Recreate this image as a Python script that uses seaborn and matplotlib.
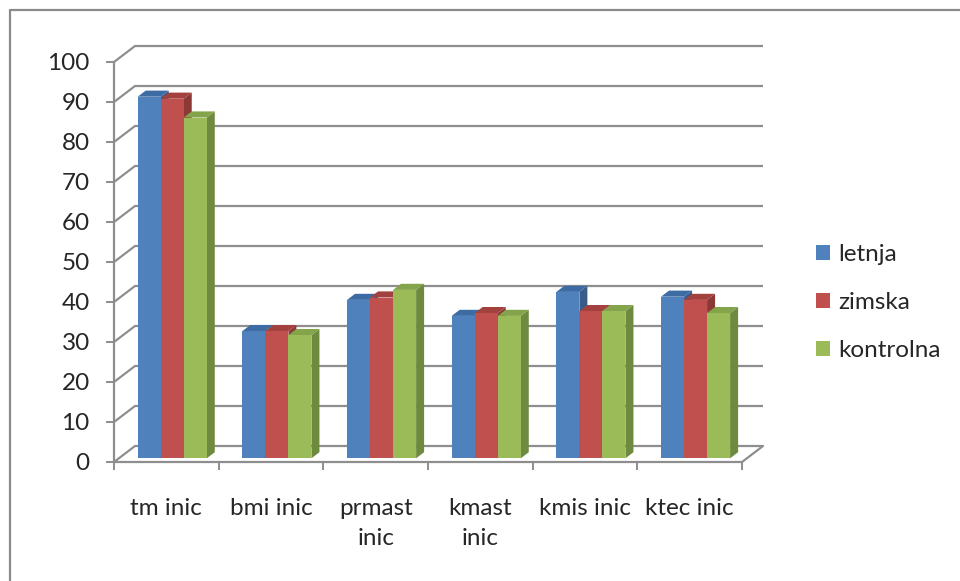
import numpy as np
import pandas as pd
import matplotlib
matplotlib.use("Agg")
import matplotlib.pyplot as plt
import seaborn as sns
from matplotlib.patches import Polygon, Patch
from matplotlib.lines import Line2D

# ---- data ----
categories = ["tm inic", "bmi inic", "prmast\ninic", "kmast\ninic", "kmis inic", "ktec inic"]
groups = ["letnja", "zimska", "kontrolna"]
letnja = [90.4, 31.8, 39.6, 35.6, 41.6, 40.4]
zimska = [89.9, 31.8, 40.2, 36.3, 36.8, 39.6]
kontrolna = [85.2, 30.8, 42.1, 35.6, 36.8, 36.3]
y_ticks = list(range(0, 101, 10))

front_colors = ["#4F81BD", "#C0504D", "#9BBB59"]
side_colors = ["#385D8A", "#8C3836", "#6E8A3E"]
top_colors = ["#3D6BA3", "#A3413E", "#84A44B"]
grid_color = "#8E8E8E"
text_color = "#262626"

df = pd.DataFrame({
    "category": categories * 3,
    "group": np.repeat(groups, len(categories)),
    "value": letnja + zimska + kontrolna,
})

sns.set_theme(style="white")
plt.rcParams["font.family"] = ["Lato", "DejaVu Sans"]

W, H = 960, 581
fig = plt.figure(figsize=(W / 100, H / 100), dpi=100)
fig.patch.set_facecolor("white")

# front plane of the 3-D box: x 114..742 px, y 62..462 px
ax = fig.add_axes([114 / W, (H - 462) / H, 628 / W, 400 / H])
ax.set_facecolor("none")

sns.barplot(data=df, x="category", y="value", hue="group",
            order=categories, hue_order=groups, palette=front_colors,
            saturation=1, width=0.66, errorbar=None, legend=False, ax=ax)

ax.set_xlim(-0.5, len(categories) - 0.5)
ax.set_ylim(0, 100)

px_x = 628 / len(categories)   # pixels per x data unit
px_y = 4.0                     # pixels per y data unit

# depth of the whole box, and of the columns
box_dx, box_dy = 21 / px_x, 16 / px_y
bar_dx, bar_dy = 8.0 / px_x, 6.1 / px_y
shift_x, shift_y = 5.9 / px_x, 3.7 / px_y

# back wall gridlines with the left-wall diagonals
x0, x1 = -0.5, len(categories) - 0.5
for v in y_ticks:
    ax.plot([x0, x0 + box_dx, x1 + box_dx], [v, v + box_dy, v + box_dy],
            color=grid_color, lw=1.6, clip_on=False, zorder=1,
            solid_capstyle="butt")
# floor right edge
ax.plot([x1, x1 + box_dx], [0, box_dy], color=grid_color, lw=1.6,
        clip_on=False, zorder=1)

# columns: shift the fronts into the box and add side/top faces
n = len(categories)
for k, p in enumerate(ax.patches):
    hi = k // n
    x = p.get_x() + shift_x
    w = p.get_width()
    h = p.get_height()
    p.set_x(x)
    p.set_y(shift_y)
    p.set_edgecolor("none")
    p.set_clip_on(False)
    z = 3 + hi * 0.1
    p.set_zorder(z + 0.05)
    y0 = shift_y
    yt = shift_y + h
    side = Polygon([(x + w, y0), (x + w + bar_dx, y0 + bar_dy),
                    (x + w + bar_dx, yt + bar_dy), (x + w, yt)],
                   closed=True, facecolor=side_colors[hi], edgecolor="none",
                   clip_on=False, zorder=z)
    top = Polygon([(x, yt), (x + w, yt), (x + w + bar_dx, yt + bar_dy),
                   (x + bar_dx, yt + bar_dy)],
                  closed=True, facecolor=top_colors[hi], edgecolor="none",
                  clip_on=False, zorder=z)
    ax.add_patch(side)
    ax.add_patch(top)

# axes, ticks and labels
for s in ["top", "right"]:
    ax.spines[s].set_visible(False)
for s in ["left", "bottom"]:
    ax.spines[s].set_color(grid_color)
    ax.spines[s].set_linewidth(1.6)
    ax.spines[s].set_zorder(2)

ax.set_yticks(y_ticks)
ax.set_yticklabels([str(v) for v in y_ticks])
ax.tick_params(axis="y", length=5.5, width=1.4, color=grid_color, pad=12,
               labelsize=17.5, labelcolor=text_color, left=True)
ax.set_xticks(range(n))
ax.set_xticklabels(categories, linespacing=1.5)
ax.set_xticks(np.arange(-0.5, n, 1.0), minor=True)
ax.tick_params(axis="x", which="major", length=0, pad=26,
               labelsize=17.5, labelcolor=text_color)
ax.tick_params(axis="x", which="minor", length=6, width=1.4,
               color=grid_color, bottom=True)
ax.set_xlabel("")
ax.set_ylabel("")
ax.grid(False)

# legend
handles = [Patch(facecolor=c, edgecolor="none") for c in front_colors]
fig.legend(handles, groups, loc="upper left",
           bbox_to_anchor=(816 / W, 1 - 244 / H), frameon=False,
           fontsize=17.5, labelcolor=text_color, handlelength=0.58,
           handleheight=0.58, handletextpad=0.35, labelspacing=1.12,
           borderpad=0, borderaxespad=0)

# chart border (top and left edges)
fig.add_artist(Line2D([10 / W, 10 / W], [0, 1 - 10 / H], color="#8A8A8A",
                      lw=1.6, transform=fig.transFigure))
fig.add_artist(Line2D([10 / W, 1], [1 - 10 / H, 1 - 10 / H], color="#8A8A8A",
                      lw=1.6, transform=fig.transFigure))

fig.savefig("out.png", dpi=100)
